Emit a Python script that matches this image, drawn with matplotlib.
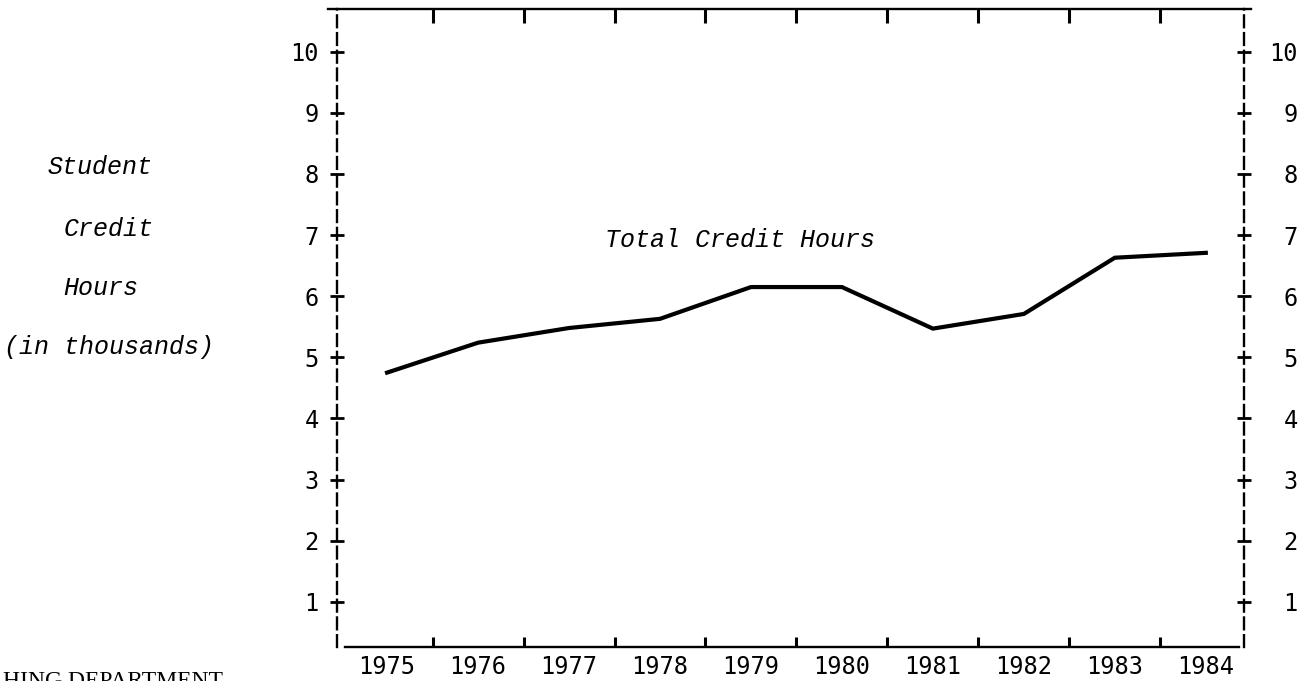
import matplotlib
matplotlib.use("Agg")
import matplotlib.pyplot as plt

# data (thousands of student credit hours)
years = [1975, 1976, 1977, 1978, 1979, 1980, 1981, 1982, 1983, 1984]
credit_hours = [4.75, 5.24, 5.48, 5.63, 6.15, 6.15, 5.47, 5.71, 6.63, 6.71]
y_ticks = [1, 2, 3, 4, 5, 6, 7, 8, 9, 10]
year_labels = [str(y) for y in years]
mid_ticks = [y + 0.5 for y in years[:-1]]

mono = "Liberation Mono"
tick_font = "DejaVu Sans Mono"

fig = plt.figure(figsize=(13.11, 6.81), dpi=100)
ax = fig.add_axes([0.2571, 0.0499, 0.6918, 0.9369])
ax.set_xlim(1974.45, 1984.42)
ax.set_ylim(0.26, 10.7)

# the line
ax.plot(years, credit_hours, color="black", linewidth=3, solid_joinstyle="miter")
ax.text(1977.4, 6.92, "Total Credit Hours", fontsize=18, family=mono,
        style="italic", ha="left", va="center")

# spines
for side in ["left", "right"]:
    ax.spines[side].set_linewidth(1.7)
    ax.spines[side].set_linestyle((0, (5, 2.5)))
ax.spines["bottom"].set_linewidth(1.7)
ax.spines["bottom"].set_bounds(1974.54, 1984.37)
ax.spines["top"].set_visible(False)

# x axis: labels at years, ticks between years
ax.set_xticks(years)
ax.set_xticklabels(year_labels, fontsize=17, family=tick_font)
ax.set_xticks(mid_ticks, minor=True)
ax.tick_params(axis="x", which="major", length=0, pad=6)
ax.tick_params(axis="x", which="minor", direction="in", length=7.5, width=2.2,
               bottom=True, top=False)

# top border with its own ticks
top = ax.secondary_xaxis("top")
top.set_xticks(mid_ticks)
top.tick_params(direction="in", length=10, width=2.2, labeltop=False)
top.spines["top"].set_linewidth(1.7)
top.spines["top"].set_bounds(1974.35, 1984.5)

# left y axis
ax.set_yticks(y_ticks)
ax.set_yticklabels([str(v) for v in y_ticks], fontsize=17, family=tick_font)
ax.tick_params(axis="y", direction="inout", length=9.5, width=2, pad=8.5)

# right y axis, labels right-aligned
ax2 = ax.twinx()
ax2.set_ylim(ax.get_ylim())
ax2.set_yticks(y_ticks)
ax2.set_yticklabels([str(v) for v in y_ticks], fontsize=17, family=tick_font)
ax2.tick_params(axis="y", direction="inout", length=9.5, width=2, pad=34)
for lab in ax2.get_yticklabels():
    lab.set_horizontalalignment("right")
for s in ax2.spines.values():
    s.set_visible(False)

# axis title on the left, one word per line
label_lines = ["Student", "Credit", "Hours", "(in thousands)"]
label_x = [0.0763, 0.083, 0.077, 0.083]
label_y = [0.755, 0.664, 0.577, 0.490]
for txt, x, y in zip(label_lines, label_x, label_y):
    fig.text(x, y, txt, fontsize=18, family=mono, style="italic",
             ha="center", va="center")

# cut-off text at the bottom edge of the page
fig.text(0.002, 0.014, "HING DEPARTMENT", fontsize=17, family="Liberation Serif",
         ha="left", va="top")

fig.savefig("out.png", dpi=100)
